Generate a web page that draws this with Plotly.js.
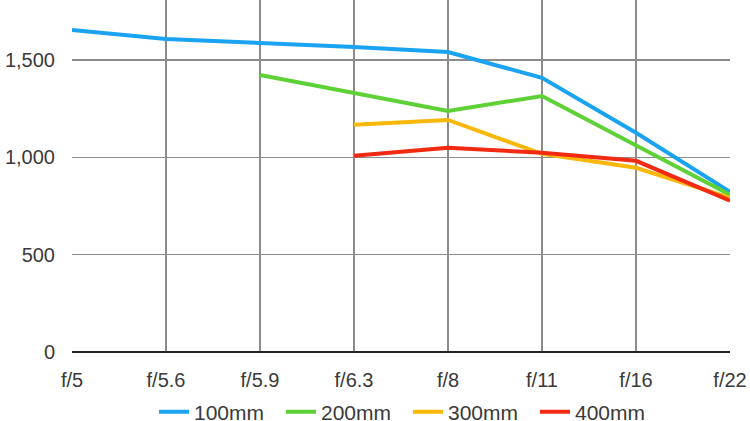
<!DOCTYPE html>
<html><head><meta charset="utf-8">
<script src="https://cdn.plot.ly/plotly-3.0.1.min.js"></script>
<style>html,body{margin:0;padding:0;background:#fff}#chart{width:750px;height:421px}</style>
</head><body><div id="chart"></div>
<script>
const apertures = ["f/5","f/5.6","f/5.9","f/6.3","f/8","f/11","f/16","f/22"];
const seriesNames = ["100mm","200mm","300mm","400mm"];
const v100 = [1654,1608,1587,1567,1541,1408,1126,823];
const v200 = [null,null,1423,null,1238,1315,1059,808];
const v300 = [null,null,null,1167,1192,1018,946,792];
const v400 = [null,null,null,1008,1049,1023,982,777];
const colors = ["#1aa3f0","#5ed136","#f7b80a","#f22a12"];
const vals = [v100,v200,v300,v400];
const traces = vals.map((v,i)=>({
  type:"scatter", mode:"lines", name:seriesNames[i], x:apertures, y:v,
  connectgaps:true, line:{color:colors[i], width:4}, hoverinfo:"skip"
}));
const font = {family:"Liberation Sans, Arial, sans-serif", size:20, color:"#3a3a3a"};
const legendFont = {family:"Liberation Sans, Arial, sans-serif", size:21, color:"#3a3a3a"};
Plotly.newPlot("chart", traces, {
  width:750, height:421,
  margin:{l:72, r:20, t:0, b:69, autoexpand:false},
  paper_bgcolor:"#fff", plot_bgcolor:"#fff",
  font:font,
  showlegend:true,
  legend:{orientation:"h", x:0.5 + 7/658, xanchor:"center", y:-60/352, yanchor:"middle", font:legendFont,
    itemwidth:30, tracegroupgap:0, entrywidth:82, entrywidthmode:"pixels"},
  xaxis:{type:"category", range:[0,7], showgrid:true, gridcolor:"#8c8c8c", gridwidth:1.5,
    showline:false, zeroline:false, ticks:"", tickfont:font, ticklabelstandoff:14, fixedrange:true},
  yaxis:{range:[0,1808], tickvals:[0,500,1000,1500], ticktext:["0","500","1,000","1,500"],
    showgrid:true, gridcolor:"#8c8c8c", gridwidth:1.5, zeroline:true, zerolinecolor:"#222", zerolinewidth:1.5,
    showline:false, ticks:"", tickfont:font, ticklabelstandoff:16, fixedrange:true}
}, {displayModeBar:false, staticPlot:true});
</script></body></html>
